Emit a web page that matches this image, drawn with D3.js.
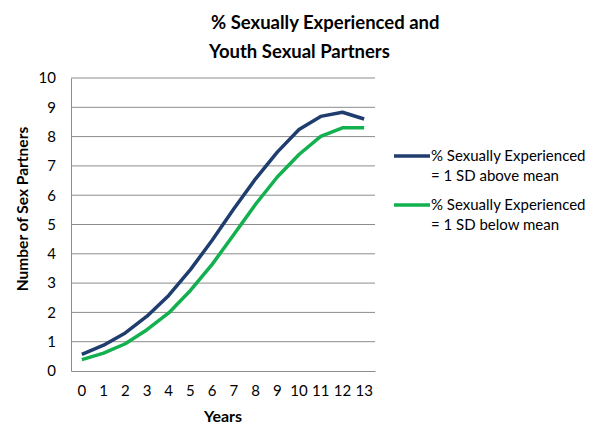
<!DOCTYPE html>
<html><head><meta charset="utf-8">
<script src="https://cdn.jsdelivr.net/npm/d3@7"></script>
<style>body{margin:0;background:#fff;} text{font-family:Lato,"Open Sans",sans-serif;}</style>
</head><body>
<svg id="c" width="601" height="434"></svg>
<script>
const years = [0,1,2,3,4,5,6,7,8,9,10,11,12,13];
const aboveMean = [0.57,0.88,1.30,1.87,2.58,3.46,4.46,5.54,6.56,7.47,8.24,8.69,8.83,8.60];
const belowMean = [0.39,0.61,0.93,1.41,1.98,2.75,3.64,4.66,5.69,6.62,7.39,8.01,8.30,8.30];
const yTicks = [0,1,2,3,4,5,6,7,8,9,10];
const seriesNames = ["% Sexually Experienced|= 1 SD above mean","% Sexually Experienced|= 1 SD below mean"];
const colors = ["#1f3d6e","#12b04f"];
const titleLines = ["% Sexually Experienced and","Youth Sexual Partners"];

const svg = d3.select("#c");
const L=71,R=375,T=78,B=371;
const x = d3.scaleBand().domain(years).range([L,R]);
const y = d3.scaleLinear().domain([0,10]).range([B,T]);

// gridlines
svg.append("g").selectAll("line").data(yTicks.filter(d=>d>0)).join("line")
 .attr("x1",L).attr("x2",R).attr("y1",d=>y(d)).attr("y2",d=>y(d))
 .attr("stroke","#8c8c8c").attr("stroke-width",1);

// axes
const yAxis = svg.append("g").attr("transform",`translate(${L},0)`)
 .call(d3.axisLeft(y).tickValues(yTicks).tickSize(0).tickPadding(15));
yAxis.select(".domain").attr("stroke","#8c8c8c");
yAxis.selectAll("text").attr("font-size",15).attr("fill","#000").style("font-family","Lato");
const xAxis = svg.append("g").attr("transform",`translate(0,${B})`)
 .call(d3.axisBottom(x).tickSize(0).tickPadding(14));
xAxis.select(".domain").attr("stroke","#8c8c8c");
xAxis.selectAll("text").attr("font-size",15).attr("fill","#000").style("font-family","Lato");

// lines
const line = d3.line().x((d,i)=>x(years[i])+x.bandwidth()/2).y(d=>y(d));
[aboveMean,belowMean].forEach((s,i)=>{
 svg.append("path").datum(s).attr("d",line).attr("fill","none")
  .attr("stroke",colors[i]).attr("stroke-width",3.5).attr("stroke-linejoin","round");
});

// legend
const legY=[156,205];
seriesNames.forEach((n,i)=>{
 svg.append("line").attr("x1",394).attr("x2",430).attr("y1",legY[i]).attr("y2",legY[i])
  .attr("stroke",colors[i]).attr("stroke-width",3.5);
 const parts=n.split("|");
 parts.forEach((p,j)=>{
  svg.append("text").attr("x",431).attr("y",legY[i]+5+j*19.5).attr("font-size",15).text(p);
 });
});

// title
titleLines.forEach((t,i)=>{
 svg.append("text").attr("x",i==0?211:209).attr("y",29+i*29).attr("font-size",18.5)
  .attr("font-weight","bold").text(t);
});

// axis titles
svg.append("text").attr("transform","translate(28,209) rotate(-90)").attr("text-anchor","middle")
 .attr("font-size",15.5).attr("font-weight","bold").text("Number of Sex Partners");
svg.append("text").attr("x",223).attr("y",422).attr("text-anchor","middle")
 .attr("font-size",16).attr("font-weight","bold").text("Years");
</script>
</body></html>
